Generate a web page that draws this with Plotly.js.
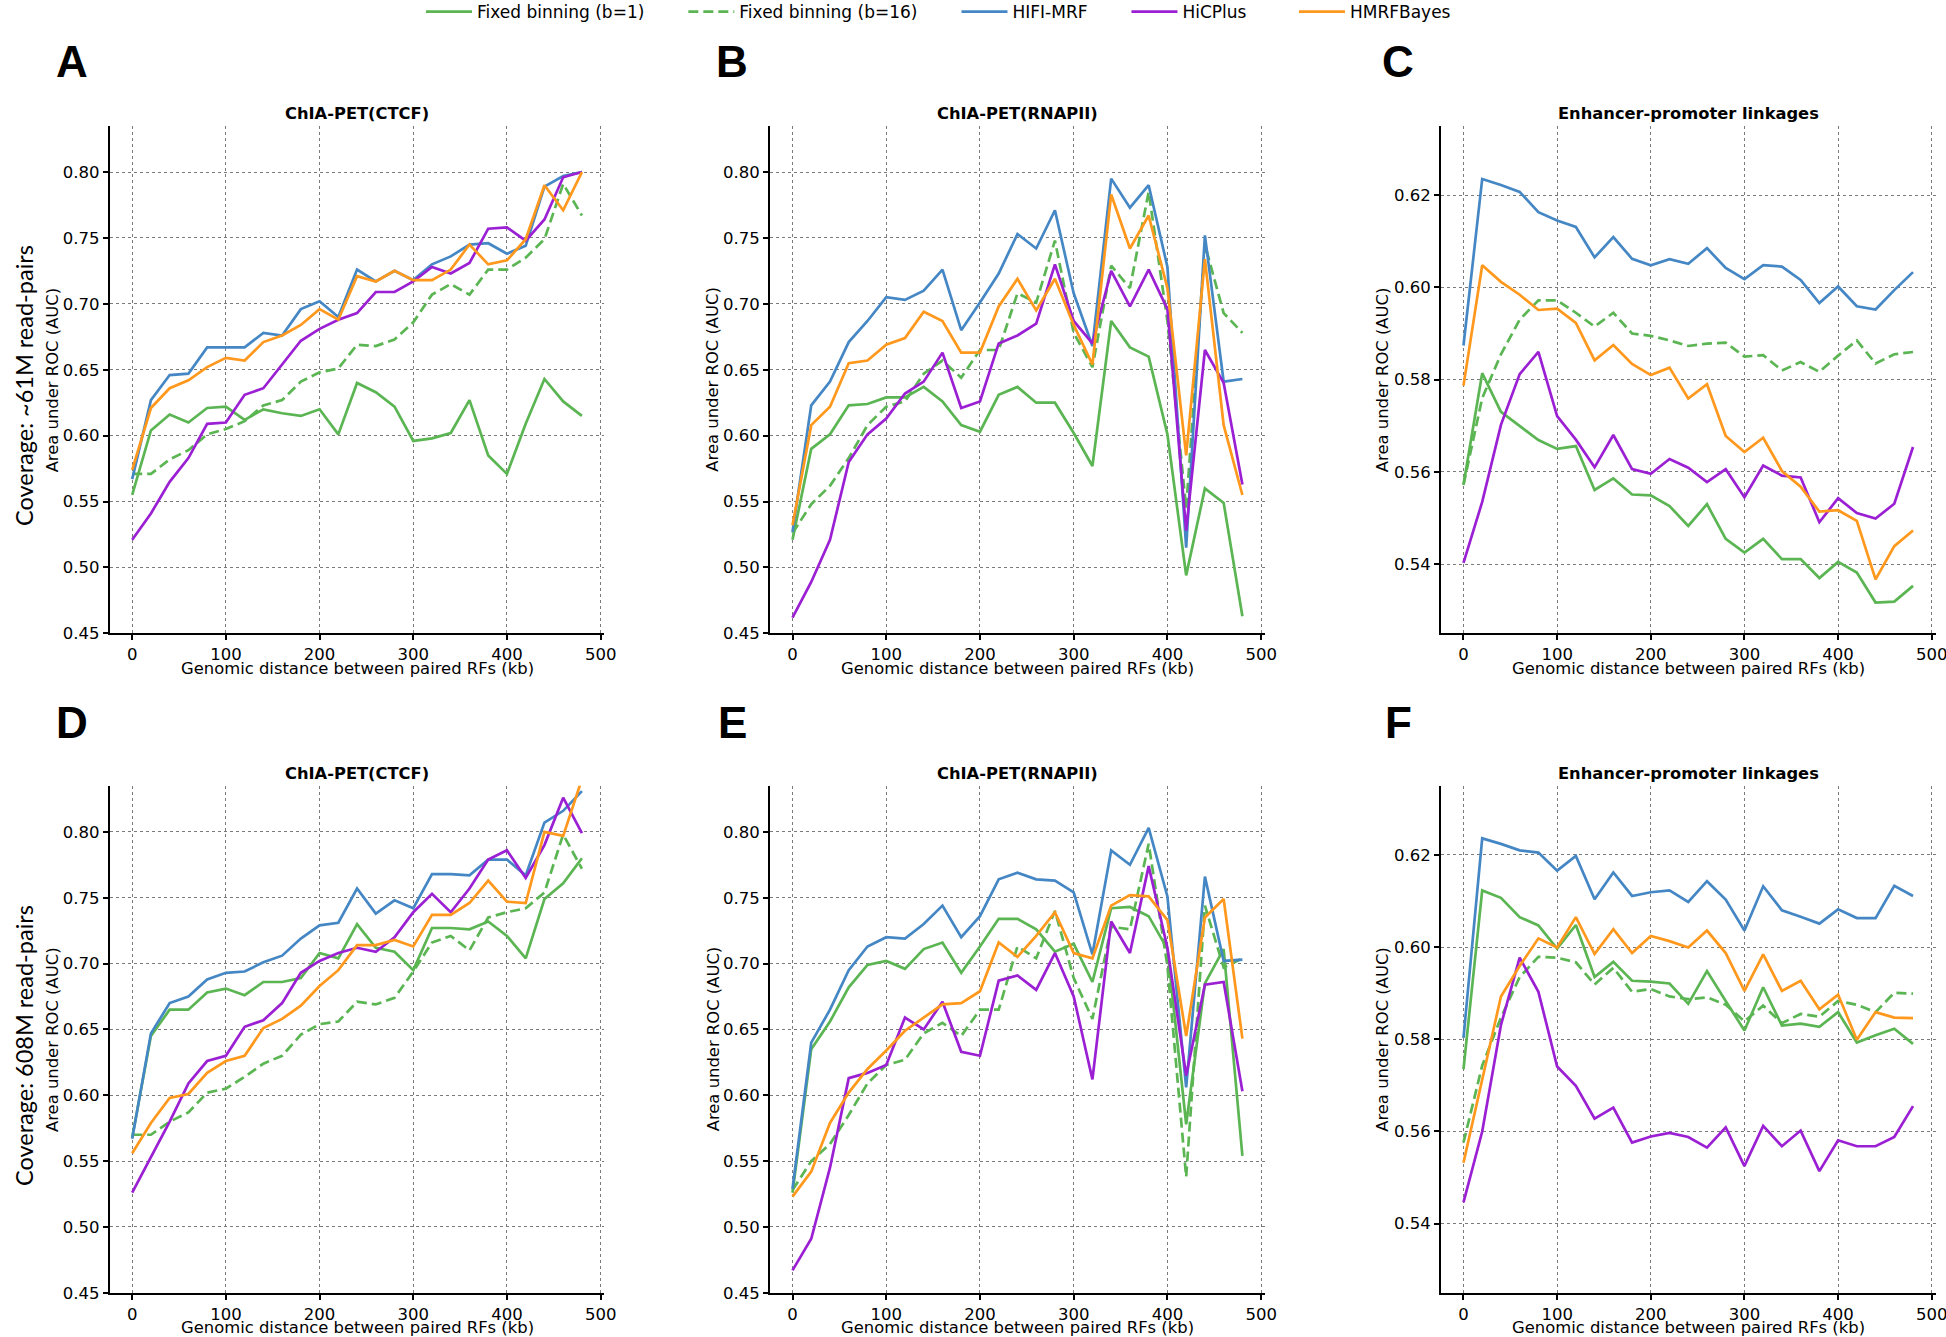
<!DOCTYPE html>
<html>
<head>
<meta charset="utf-8">
<script src="https://cdn.plot.ly/plotly-3.0.1.min.js"></script>
<style>
  body { margin: 0; background: #fff; }
  #plot { width: 1946px; height: 1337px; }
</style>
</head>
<body>
<div id="plot"></div>
<script>
// genomic distance between paired RFs (kb)
var dist = [0, 20, 40, 60, 80, 100, 120, 140, 160, 180, 200, 220, 240, 260, 280, 300, 320, 340, 360, 380, 400, 420, 440, 460, 480];

var seriesNames = ['Fixed binning (b=1)', 'Fixed binning (b=16)', 'HIFI-MRF', 'HiCPlus', 'HMRFBayes'];
var panelTitles = ['ChIA-PET(CTCF)', 'ChIA-PET(RNAPII)', 'Enhancer-promoter linkages'];
var panelLetters = ['A', 'B', 'C', 'D', 'E', 'F'];
var rowLabels = ['Coverage: ~61M read-pairs', 'Coverage: 608M read-pairs'];

// A - CTCF, ~61M
var aFixed1  = [0.555,0.604,0.616,0.610,0.621,0.622,0.612,0.620,0.617,0.615,0.620,0.601,0.640,0.633,0.622,0.596,0.598,0.602,0.627,0.585,0.571,0.609,0.643,0.626,0.615];
var aFixed16 = [0.571,0.571,0.582,0.589,0.601,0.605,0.611,0.623,0.627,0.641,0.648,0.651,0.669,0.668,0.673,0.686,0.707,0.715,0.707,0.726,0.726,0.735,0.749,0.791,0.767];
var aHifi    = [0.567,0.627,0.646,0.647,0.667,0.667,0.667,0.678,0.676,0.696,0.702,0.690,0.726,0.717,0.725,0.718,0.730,0.736,0.745,0.746,0.738,0.744,0.789,0.797,0.800];
var aHicplus = [0.521,0.541,0.565,0.583,0.609,0.610,0.631,0.636,0.654,0.672,0.681,0.688,0.693,0.709,0.709,0.717,0.728,0.723,0.731,0.757,0.758,0.748,0.764,0.796,0.800];
var aHmrf    = [0.574,0.621,0.636,0.642,0.652,0.659,0.657,0.671,0.676,0.684,0.696,0.688,0.721,0.717,0.725,0.718,0.718,0.726,0.745,0.730,0.733,0.749,0.790,0.771,0.800];

// B - RNAPII, ~61M
var bFixed1  = [0.521,0.590,0.601,0.623,0.624,0.629,0.629,0.637,0.626,0.608,0.603,0.631,0.637,0.625,0.625,0.602,0.577,0.687,0.667,0.660,0.601,0.494,0.560,0.549,0.463];
var bFixed16 = [0.526,0.548,0.562,0.583,0.608,0.622,0.626,0.647,0.657,0.644,0.665,0.665,0.708,0.701,0.748,0.678,0.652,0.729,0.712,0.785,0.687,0.545,0.745,0.693,0.678];
var bHifi    = [0.527,0.623,0.641,0.671,0.687,0.705,0.703,0.710,0.726,0.680,0.701,0.723,0.753,0.742,0.771,0.708,0.668,0.795,0.773,0.790,0.728,0.515,0.752,0.641,0.643];
var bHicplus = [0.462,0.489,0.521,0.580,0.601,0.613,0.632,0.641,0.663,0.621,0.626,0.670,0.676,0.685,0.730,0.687,0.670,0.725,0.698,0.726,0.696,0.528,0.665,0.640,0.563];
var bHmrf    = [0.532,0.608,0.622,0.655,0.657,0.669,0.674,0.694,0.687,0.663,0.663,0.698,0.719,0.695,0.719,0.684,0.654,0.783,0.742,0.767,0.712,0.585,0.734,0.608,0.555];

// C - enhancer-promoter, ~61M
var cFixed1  = [0.5572,0.5814,0.5730,0.5700,0.5669,0.5650,0.5656,0.5561,0.5586,0.5551,0.5549,0.5526,0.5483,0.5530,0.5455,0.5425,0.5455,0.5411,0.5411,0.5370,0.5405,0.5382,0.5317,0.5319,0.5353];
var cFixed16 = [0.5572,0.5760,0.5855,0.5930,0.5972,0.5972,0.5945,0.5915,0.5945,0.5900,0.5895,0.5885,0.5873,0.5878,0.5880,0.5850,0.5853,0.5820,0.5838,0.5817,0.5852,0.5885,0.5835,0.5855,0.5860];
var cHifi    = [0.5874,0.6235,0.6222,0.6207,0.6163,0.6145,0.6131,0.6065,0.6109,0.6062,0.6048,0.6061,0.6051,0.6085,0.6042,0.6018,0.6048,0.6045,0.6016,0.5966,0.6002,0.5959,0.5952,0.5994,0.6033];
var cHicplus = [0.5403,0.5535,0.5702,0.5812,0.5860,0.5721,0.5670,0.5610,0.5680,0.5606,0.5596,0.5628,0.5609,0.5578,0.5606,0.5545,0.5614,0.5592,0.5588,0.5491,0.5543,0.5511,0.5499,0.5531,0.5654];
var cHmrf    = [0.5787,0.6048,0.6012,0.5984,0.5951,0.5954,0.5923,0.5842,0.5875,0.5834,0.5810,0.5826,0.5759,0.5790,0.5678,0.5643,0.5674,0.5602,0.5568,0.5514,0.5517,0.5494,0.5367,0.5439,0.5473];

// D - CTCF, 608M
var dFixed1  = [0.568,0.645,0.665,0.665,0.678,0.681,0.676,0.686,0.686,0.689,0.708,0.704,0.730,0.712,0.709,0.695,0.727,0.727,0.726,0.732,0.721,0.704,0.749,0.761,0.780];
var dFixed16 = [0.570,0.570,0.580,0.587,0.602,0.605,0.614,0.624,0.630,0.646,0.654,0.656,0.671,0.669,0.674,0.694,0.716,0.721,0.710,0.735,0.739,0.742,0.754,0.798,0.772];
var dHifi    = [0.567,0.647,0.670,0.675,0.688,0.693,0.694,0.701,0.706,0.719,0.729,0.731,0.757,0.738,0.748,0.742,0.768,0.768,0.767,0.779,0.779,0.767,0.807,0.816,0.831];
var dHicplus = [0.526,0.553,0.580,0.609,0.626,0.630,0.652,0.657,0.670,0.693,0.702,0.708,0.712,0.709,0.720,0.739,0.753,0.739,0.757,0.779,0.786,0.765,0.790,0.826,0.799];
var dHmrf    = [0.556,0.579,0.598,0.601,0.617,0.626,0.630,0.651,0.658,0.668,0.683,0.695,0.714,0.714,0.718,0.713,0.737,0.737,0.746,0.763,0.747,0.746,0.800,0.797,0.840];

// E - RNAPII, 608M
var eFixed1  = [0.526,0.635,0.656,0.682,0.699,0.702,0.696,0.711,0.716,0.693,0.713,0.734,0.734,0.726,0.709,0.715,0.686,0.742,0.743,0.736,0.711,0.578,0.685,0.711,0.554];
var eFixed16 = [0.528,0.550,0.563,0.585,0.609,0.623,0.627,0.647,0.655,0.645,0.665,0.665,0.713,0.704,0.740,0.689,0.658,0.728,0.726,0.791,0.698,0.538,0.744,0.697,0.704];
var eHifi    = [0.529,0.640,0.665,0.695,0.713,0.720,0.719,0.730,0.744,0.720,0.736,0.764,0.769,0.764,0.763,0.754,0.707,0.786,0.775,0.803,0.751,0.606,0.766,0.702,0.703];
var eHicplus = [0.467,0.491,0.545,0.613,0.617,0.623,0.659,0.650,0.671,0.633,0.630,0.687,0.691,0.680,0.708,0.675,0.612,0.732,0.708,0.774,0.712,0.615,0.684,0.686,0.603];
var eHmrf    = [0.523,0.542,0.579,0.602,0.620,0.634,0.649,0.659,0.669,0.670,0.679,0.716,0.705,0.721,0.739,0.708,0.704,0.744,0.752,0.751,0.733,0.645,0.735,0.749,0.643];

// F - enhancer-promoter, 608M
var fFixed1  = [0.5735,0.6123,0.6107,0.6065,0.6047,0.5997,0.6048,0.5935,0.5968,0.5927,0.5925,0.5921,0.5877,0.5948,0.5883,0.5819,0.5913,0.5830,0.5834,0.5827,0.5859,0.5793,0.5809,0.5823,0.5790];
var fFixed16 = [0.5576,0.5743,0.5847,0.5935,0.5979,0.5977,0.5967,0.5919,0.5955,0.5903,0.5909,0.5893,0.5887,0.5891,0.5875,0.5839,0.5873,0.5835,0.5855,0.5849,0.5883,0.5875,0.5859,0.5901,0.5899];
var fHifi    = [0.5803,0.6236,0.6224,0.6210,0.6205,0.6166,0.6198,0.6104,0.6162,0.6111,0.6119,0.6123,0.6098,0.6143,0.6103,0.6036,0.6132,0.6080,0.6066,0.6051,0.6082,0.6063,0.6063,0.6133,0.6111];
var fHicplus = [0.5446,0.5600,0.5831,0.5977,0.5903,0.5741,0.5699,0.5628,0.5652,0.5576,0.5589,0.5597,0.5588,0.5565,0.5609,0.5525,0.5612,0.5568,0.5602,0.5514,0.5581,0.5568,0.5568,0.5588,0.5655];
var fHmrf    = [0.5532,0.5711,0.5893,0.5959,0.6019,0.5999,0.6065,0.5985,0.6039,0.5987,0.6024,0.6013,0.5999,0.6036,0.5987,0.5905,0.5984,0.5905,0.5927,0.5865,0.5897,0.5799,0.5859,0.5847,0.5846];

var panels = [
    [aFixed1, aFixed16, aHifi, aHicplus, aHmrf],
    [bFixed1, bFixed16, bHifi, bHicplus, bHmrf],
    [cFixed1, cFixed16, cHifi, cHicplus, cHmrf],
    [dFixed1, dFixed16, dHifi, dHicplus, dHmrf],
    [eFixed1, eFixed16, eHifi, eHicplus, eHmrf],
    [fFixed1, fFixed16, fHifi, fHicplus, fHmrf]
];

var colors = ['#5ab552', '#5ab552', '#4587c4', '#9b1fd3', '#ff981c'];
var dashes = ['solid', '10px,5px', 'solid', 'solid', 'solid'];
// blank spaces after each legend name, only to space the entries out
var legendPad = ['\u2003\u2003', '\u2003\u2003', '\u2003\u2003', '\u2003\u2003\u2002', ''];

var W = 1946, H = 1337;
// axes boxes in pixels: columns (left, right), rows (top, bottom)
var colPx = [[109.7, 604.4], [770, 1264.9], [1441, 1935.5]];
var rowPx = [[125.9, 633.4], [785.8, 1292.8]];
var font = 'DejaVu Sans';

function px(x) { return x / W; }
function py(y) { return 1 - y / H; }

var data = [];
var layout = {
    width: W,
    height: H,
    margin: {l: 0, r: 0, t: 0, b: 0, autoexpand: false},
    paper_bgcolor: '#fff',
    plot_bgcolor: '#fff',
    font: {family: font, color: '#000', size: 16.5},
    showlegend: true,
    legend: {
        orientation: 'h',
        x: px(421), xanchor: 'left',
        y: 1.0045, yanchor: 'top',
        font: {family: font, size: 17},
        itemwidth: 46
    },
    annotations: []
};

for (var p = 0; p < 6; p++) {
    var row = Math.floor(p / 3), col = p % 3;
    var n = p + 1;
    var xa = 'x' + (n > 1 ? n : ''), ya = 'y' + (n > 1 ? n : '');
    for (var s = 0; s < 5; s++) {
        data.push({
            x: dist,
            y: panels[p][s],
            xaxis: xa,
            yaxis: ya,
            type: 'scatter',
            mode: 'lines',
            name: seriesNames[s] + legendPad[s],
            legendgroup: seriesNames[s],
            showlegend: p == 0,
            line: {color: colors[s], width: 2.7, dash: dashes[s]},
            hoverinfo: 'x+y+name'
        });
    }
    var enh = (col == 2);
    layout['xaxis' + (n > 1 ? n : '')] = {
        domain: [px(colPx[col][0]), px(colPx[col][1])],
        anchor: ya,
        range: [-24, 504],
        tick0: 0, dtick: 100,
        showline: true, linecolor: '#000', linewidth: 2,
        ticks: 'outside', ticklen: 5, tickwidth: 1.5, tickcolor: '#000',
        ticklabeloverflow: 'allow',
        showgrid: true, gridcolor: '#7a7a7a', gridwidth: 1, griddash: 'dot',
        zeroline: false,
        tickfont: {size: 16.5}
    };
    layout['yaxis' + (n > 1 ? n : '')] = {
        domain: [py(rowPx[row][1]), py(rowPx[row][0])],
        anchor: xa,
        range: enh ? [0.525, 0.635] : [0.45, 0.835],
        tick0: enh ? 0.54 : 0.45,
        dtick: enh ? 0.02 : 0.05,
        tickformat: '.2f',
        showline: true, linecolor: '#000', linewidth: 2,
        ticks: 'outside', ticklen: 5, tickwidth: 1.5, tickcolor: '#000',
        showgrid: true, gridcolor: '#7a7a7a', gridwidth: 1, griddash: 'dot',
        zeroline: false,
        tickfont: {size: 16.5}
    };

    var cx = (colPx[col][0] + colPx[col][1]) / 2;
    var cy = (rowPx[row][0] + rowPx[row][1]) / 2;
    // subplot title
    layout.annotations.push({
        text: '<b>' + panelTitles[col] + '</b>',
        xref: 'paper', yref: 'paper',
        x: px(cx), y: py(rowPx[row][0] - 12),
        xanchor: 'center', yanchor: 'middle',
        showarrow: false, font: {family: font, size: 16.3}
    });
    // x axis title
    layout.annotations.push({
        text: 'Genomic distance between paired RFs (kb)',
        xref: 'paper', yref: 'paper',
        x: px(cx), y: py(rowPx[row][1] + 35),
        xanchor: 'center', yanchor: 'middle',
        showarrow: false, font: {family: font, size: 16.4}
    });
    // y axis title
    layout.annotations.push({
        text: 'Area under ROC (AUC)',
        xref: 'paper', yref: 'paper',
        x: px(colPx[col][0] - 57 - (enh ? 1.5 : 0)), y: py(cy),
        xanchor: 'center', yanchor: 'middle', textangle: -90,
        showarrow: false, font: {family: font, size: 16.4}
    });
    // panel letter
    layout.annotations.push({
        text: '<b>' + panelLetters[p] + '</b>',
        xref: 'paper', yref: 'paper',
        x: px([72, 732, 1398][col]), y: py(row == 0 ? 61 : 722),
        xanchor: 'center', yanchor: 'middle',
        showarrow: false, font: {family: 'Liberation Sans', size: 44}
    });
}

// row labels
layout.annotations.push({
    text: rowLabels[0], xref: 'paper', yref: 'paper',
    x: px(24), y: py(386), xanchor: 'center', yanchor: 'middle', textangle: -90,
    showarrow: false, font: {family: 'Lato', size: 23.5}
});
layout.annotations.push({
    text: rowLabels[1], xref: 'paper', yref: 'paper',
    x: px(24), y: py(1046), xanchor: 'center', yanchor: 'middle', textangle: -90,
    showarrow: false, font: {family: 'Lato', size: 23.5}
});

Plotly.newPlot('plot', data, layout, {displayModeBar: false});
</script>
</body>
</html>
